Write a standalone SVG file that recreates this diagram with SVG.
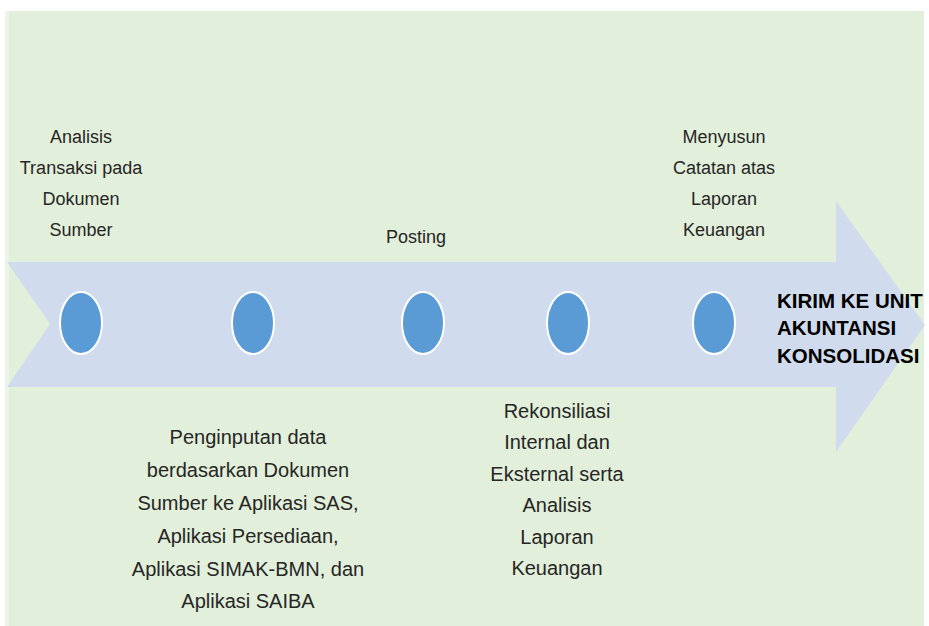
<svg xmlns="http://www.w3.org/2000/svg" width="929" height="626" viewBox="0 0 929 626">
  <style>
    .lbl { font-family: "Liberation Sans", Arial, sans-serif; font-size: 18px; fill: #262626; text-anchor: middle; }
    .big { font-size: 20px; }
    .bold { font-family: "Liberation Sans", Arial, sans-serif; font-size: 20.5px; font-weight: bold; fill: #000; }
    .dot { fill: #5B9BD5; stroke: #FFFFFF; stroke-width: 2; }
  </style>
  <rect x="0" y="0" width="929" height="626" fill="#FFFFFF"/>
  <rect x="5" y="11" width="919" height="615" fill="#E2EFDA"/>
  <rect x="5" y="11" width="4" height="615" fill="#EBF5E7"/>
  <g id="connectors">
    <polygon points="7,262 836,262 836,201 925,325 836,452 836,387 7,387 50,324" fill="#D0DCEE"/>
  </g>
  <g id="node1">
    <ellipse class="dot" cx="81" cy="323" rx="21" ry="31"/>
    <text class="lbl" x="81" y="143">Analisis</text>
    <text class="lbl" x="81" y="174">Transaksi pada</text>
    <text class="lbl" x="81" y="205">Dokumen</text>
    <text class="lbl" x="81" y="236">Sumber</text>
  </g>
  <g id="node2">
    <ellipse class="dot" cx="253" cy="323" rx="21" ry="31"/>
    <text class="lbl big" x="248" y="444">Penginputan data</text>
    <text class="lbl big" x="248" y="477">berdasarkan Dokumen</text>
    <text class="lbl big" x="248" y="510">Sumber ke Aplikasi SAS,</text>
    <text class="lbl big" x="248" y="543">Aplikasi Persediaan,</text>
    <text class="lbl big" x="248" y="576">Aplikasi SIMAK-BMN, dan</text>
    <text class="lbl big" x="248" y="608">Aplikasi SAIBA</text>
  </g>
  <g id="node3">
    <ellipse class="dot" cx="423" cy="323" rx="21" ry="31"/>
    <text class="lbl" x="416" y="243">Posting</text>
  </g>
  <g id="node4">
    <ellipse class="dot" cx="568" cy="323" rx="21" ry="31"/>
    <text class="lbl big" x="557" y="418">Rekonsiliasi</text>
    <text class="lbl big" x="557" y="449">Internal dan</text>
    <text class="lbl big" x="557" y="481">Eksternal serta</text>
    <text class="lbl big" x="557" y="512">Analisis</text>
    <text class="lbl big" x="557" y="544">Laporan</text>
    <text class="lbl big" x="557" y="575">Keuangan</text>
  </g>
  <g id="node5">
    <ellipse class="dot" cx="714" cy="323" rx="21" ry="31"/>
    <text class="lbl" x="724" y="143">Menyusun</text>
    <text class="lbl" x="724" y="174">Catatan atas</text>
    <text class="lbl" x="724" y="205">Laporan</text>
    <text class="lbl" x="724" y="236">Keuangan</text>
  </g>
  <g id="node6">
    <text class="bold" x="777" y="308">KIRIM KE UNIT</text>
    <text class="bold" x="777" y="335">AKUNTANSI</text>
    <text class="bold" x="777" y="363">KONSOLIDASI</text>
  </g>
</svg>
